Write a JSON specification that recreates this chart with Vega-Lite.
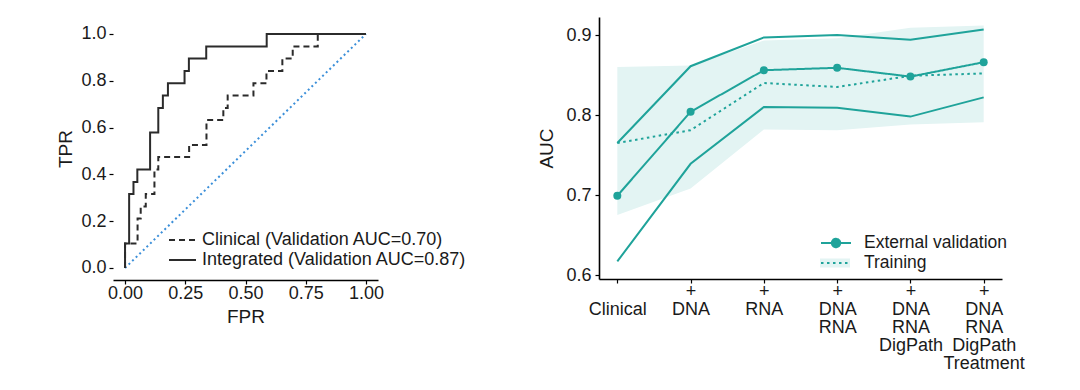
{
  "$schema": "https://vega.github.io/schema/vega-lite/v6.json",
  "background": "white",
  "padding": {"left": 56, "top": 17, "right": 5, "bottom": 5},
  "spacing": 70,
  "resolve": {"scale": {"strokeDash": "independent", "fill": "independent"}, "legend": {"strokeDash": "independent", "fill": "independent"}},
  "config": {
    "view": {"stroke": null},
    "font": "Liberation Sans",
    "axis": {"domainColor": "#000", "domainWidth": 1.6, "tickColor": "#000", "tickWidth": 1.2, "tickSize": 4, "labelFont": "Liberation Sans", "labelFontSize": 18, "labelColor": "#1a1a1a", "titleFont": "Liberation Sans", "titleFontSize": 19, "titleFontWeight": "normal", "titleColor": "#1a1a1a", "grid": false},
    "legend": {"labelFont": "Liberation Sans", "labelFontSize": 18, "labelColor": "#1a1a1a", "padding": 0, "labelLimit": 0}
  },
  "hconcat": [
    {
      "width": 265,
      "height": 263,
      "layer": [
        {
          "mark": {"type": "rule", "color": "#000", "strokeWidth": 1.6},
          "encoding": {
            "x": {"datum": -0.05, "type": "quantitative", "scale": {"domain": [-0.05, 1.05], "nice": false, "zero": false}, "axis": {"values": [0, 0.25, 0.5, 0.75, 1], "format": ".2f", "title": "FPR", "labelPadding": 0, "titlePadding": 5}},
            "y": {"datum": -0.0513, "type": "quantitative", "scale": {"domain": [-0.0513, 1.0726], "nice": false, "zero": false}, "axis": {"values": [0, 0.2, 0.4, 0.6, 0.8, 1], "format": ".1f", "title": "TPR", "labelPadding": 3, "titlePadding": 5, "domain": false}},
            "y2": {"datum": 1.0513}
          }
        },
        {
          "data": {"values": [{"fpr": 0, "tpr": 0}, {"fpr": 1, "tpr": 1}]},
          "mark": {"type": "line", "color": "#3b8fd9", "strokeWidth": 2, "strokeDash": [2, 3]},
          "encoding": {
            "x": {"field": "fpr", "type": "quantitative", "title": "FPR"},
            "y": {"field": "tpr", "type": "quantitative", "title": "TPR"}
          }
        },
        {
          "data": {"values": [
            {"series": "Clinical", "i": 0, "fpr": 0, "tpr": 0},
            {"series": "Clinical", "i": 1, "fpr": 0, "tpr": 0.105},
            {"series": "Clinical", "i": 2, "fpr": 0.052, "tpr": 0.105},
            {"series": "Clinical", "i": 3, "fpr": 0.052, "tpr": 0.211},
            {"series": "Clinical", "i": 4, "fpr": 0.065, "tpr": 0.211},
            {"series": "Clinical", "i": 5, "fpr": 0.065, "tpr": 0.263},
            {"series": "Clinical", "i": 6, "fpr": 0.086, "tpr": 0.263},
            {"series": "Clinical", "i": 7, "fpr": 0.086, "tpr": 0.316},
            {"series": "Clinical", "i": 8, "fpr": 0.122, "tpr": 0.316},
            {"series": "Clinical", "i": 9, "fpr": 0.122, "tpr": 0.421},
            {"series": "Clinical", "i": 10, "fpr": 0.138, "tpr": 0.421},
            {"series": "Clinical", "i": 11, "fpr": 0.138, "tpr": 0.474},
            {"series": "Clinical", "i": 12, "fpr": 0.266, "tpr": 0.474},
            {"series": "Clinical", "i": 13, "fpr": 0.266, "tpr": 0.526},
            {"series": "Clinical", "i": 14, "fpr": 0.338, "tpr": 0.526},
            {"series": "Clinical", "i": 15, "fpr": 0.338, "tpr": 0.632},
            {"series": "Clinical", "i": 16, "fpr": 0.408, "tpr": 0.632},
            {"series": "Clinical", "i": 17, "fpr": 0.408, "tpr": 0.684},
            {"series": "Clinical", "i": 18, "fpr": 0.426, "tpr": 0.684},
            {"series": "Clinical", "i": 19, "fpr": 0.426, "tpr": 0.737},
            {"series": "Clinical", "i": 20, "fpr": 0.533, "tpr": 0.737},
            {"series": "Clinical", "i": 21, "fpr": 0.533, "tpr": 0.789},
            {"series": "Clinical", "i": 22, "fpr": 0.587, "tpr": 0.789},
            {"series": "Clinical", "i": 23, "fpr": 0.587, "tpr": 0.842},
            {"series": "Clinical", "i": 24, "fpr": 0.653, "tpr": 0.842},
            {"series": "Clinical", "i": 25, "fpr": 0.653, "tpr": 0.895},
            {"series": "Clinical", "i": 26, "fpr": 0.696, "tpr": 0.895},
            {"series": "Clinical", "i": 27, "fpr": 0.696, "tpr": 0.947},
            {"series": "Clinical", "i": 28, "fpr": 0.8, "tpr": 0.947},
            {"series": "Clinical", "i": 29, "fpr": 0.8, "tpr": 1},
            {"series": "Clinical", "i": 30, "fpr": 1, "tpr": 1},
            {"series": "Integrated", "i": 0, "fpr": 0, "tpr": 0},
            {"series": "Integrated", "i": 1, "fpr": 0, "tpr": 0.105},
            {"series": "Integrated", "i": 2, "fpr": 0.017, "tpr": 0.105},
            {"series": "Integrated", "i": 3, "fpr": 0.017, "tpr": 0.316},
            {"series": "Integrated", "i": 4, "fpr": 0.035, "tpr": 0.316},
            {"series": "Integrated", "i": 5, "fpr": 0.035, "tpr": 0.368},
            {"series": "Integrated", "i": 6, "fpr": 0.051, "tpr": 0.368},
            {"series": "Integrated", "i": 7, "fpr": 0.051, "tpr": 0.421},
            {"series": "Integrated", "i": 8, "fpr": 0.104, "tpr": 0.421},
            {"series": "Integrated", "i": 9, "fpr": 0.104, "tpr": 0.579},
            {"series": "Integrated", "i": 10, "fpr": 0.138, "tpr": 0.579},
            {"series": "Integrated", "i": 11, "fpr": 0.138, "tpr": 0.684},
            {"series": "Integrated", "i": 12, "fpr": 0.157, "tpr": 0.684},
            {"series": "Integrated", "i": 13, "fpr": 0.157, "tpr": 0.737},
            {"series": "Integrated", "i": 14, "fpr": 0.178, "tpr": 0.737},
            {"series": "Integrated", "i": 15, "fpr": 0.178, "tpr": 0.789},
            {"series": "Integrated", "i": 16, "fpr": 0.247, "tpr": 0.789},
            {"series": "Integrated", "i": 17, "fpr": 0.247, "tpr": 0.842},
            {"series": "Integrated", "i": 18, "fpr": 0.265, "tpr": 0.842},
            {"series": "Integrated", "i": 19, "fpr": 0.265, "tpr": 0.895},
            {"series": "Integrated", "i": 20, "fpr": 0.337, "tpr": 0.895},
            {"series": "Integrated", "i": 21, "fpr": 0.337, "tpr": 0.947},
            {"series": "Integrated", "i": 22, "fpr": 0.588, "tpr": 0.947},
            {"series": "Integrated", "i": 23, "fpr": 0.588, "tpr": 1},
            {"series": "Integrated", "i": 24, "fpr": 1, "tpr": 1}
          ]},
          "mark": {"type": "line", "color": "#2b2b2b", "strokeWidth": 2},
          "encoding": {
            "x": {"field": "fpr", "type": "quantitative", "title": "FPR"},
            "y": {"field": "tpr", "type": "quantitative", "title": "TPR"},
            "order": {"field": "i", "type": "quantitative"},
            "strokeDash": {
              "field": "series", "type": "nominal",
              "scale": {"domain": ["Clinical", "Integrated"], "range": [[6, 4], [1, 0]]},
              "legend": {
                "title": null, "orient": "none", "legendX": 55, "legendY": 213,
                "symbolType": "stroke", "symbolSize": 729, "symbolStrokeColor": "#2b2b2b", "symbolStrokeWidth": 2,
                "clipHeight": 20, "rowPadding": 0, "labelOffset": 5, "labelFontSize": 18,
                "labelExpr": "datum.label == 'Clinical' ? 'Clinical (Validation AUC=0.70)' : 'Integrated (Validation AUC=0.87)'"
              }
            }
          }
        }
      ]
    },
    {
      "width": 403,
      "height": 262,
      "data": {"values": [
        {"model": "Clinical", "series": "External validation", "est": 0.699, "lo": 0.617, "hi": 0.765},
        {"model": "DNA", "series": "External validation", "est": 0.804, "lo": 0.739, "hi": 0.861},
        {"model": "RNA", "series": "External validation", "est": 0.856, "lo": 0.810, "hi": 0.897},
        {"model": "DNA RNA", "series": "External validation", "est": 0.859, "lo": 0.809, "hi": 0.900},
        {"model": "DNA RNA DigPath", "series": "External validation", "est": 0.848, "lo": 0.798, "hi": 0.894},
        {"model": "DNA RNA DigPath Treatment", "series": "External validation", "est": 0.866, "lo": 0.822, "hi": 0.907},
        {"model": "Clinical", "series": "Training", "est": 0.765, "lo": 0.675, "hi": 0.860},
        {"model": "DNA", "series": "Training", "est": 0.781, "lo": 0.708, "hi": 0.862},
        {"model": "RNA", "series": "Training", "est": 0.840, "lo": 0.782, "hi": 0.893},
        {"model": "DNA RNA", "series": "Training", "est": 0.835, "lo": 0.781, "hi": 0.896},
        {"model": "DNA RNA DigPath", "series": "Training", "est": 0.849, "lo": 0.788, "hi": 0.909},
        {"model": "DNA RNA DigPath Treatment", "series": "Training", "est": 0.852, "lo": 0.791, "hi": 0.912}
      ]},
      "layer": [
        {
          "transform": [{"filter": "datum.series == 'Training'"}],
          "mark": {"type": "area", "opacity": 1},
          "encoding": {
            "x": {"field": "model", "type": "nominal", "scale": {"type": "point", "domain": ["Clinical", "DNA", "RNA", "DNA RNA", "DNA RNA DigPath", "DNA RNA DigPath Treatment"], "padding": 0.25},
              "axis": {"title": null, "labelAngle": 0, "labelPadding": -1, "labelLineHeight": 18, "labelOverlap": false, "labelFontSize": 18,
                "labelExpr": "datum.value == 'Clinical' ? ['', 'Clinical'] : split('+ ' + datum.value, ' ')"}},
            "y": {"field": "lo", "type": "quantitative", "scale": {"domain": [0.595, 0.9225], "nice": false, "zero": false}, "axis": {"values": [0.6, 0.7, 0.8, 0.9], "format": ".1f", "title": "AUC", "labelPadding": 4, "titlePadding": 9}},
            "y2": {"field": "hi"},
            "fill": {
              "field": "series", "type": "nominal",
              "scale": {"domain": ["Training"], "range": ["#e3f4f3"]},
              "legend": {
                "title": null, "orient": "none", "legendX": 221, "legendY": 236,
                "symbolType": "M-1,-0.3H1V0.3H-1Z", "symbolSize": 900, "symbolStrokeWidth": 0, "symbolOpacity": 1,
                "clipHeight": 20, "rowPadding": 0, "labelOffset": 12, "labelColor": "transparent", "labelFontSize": 17.5
              }
            }
          }
        },
        {
          "transform": [{"filter": "datum.series == 'External validation'"}],
          "mark": {"type": "line", "color": "#1fa39a", "strokeWidth": 2},
          "encoding": {
            "x": {"field": "model", "type": "nominal"},
            "y": {"field": "hi", "type": "quantitative", "title": "AUC"}
          }
        },
        {
          "transform": [{"filter": "datum.series == 'External validation'"}],
          "mark": {"type": "line", "color": "#1fa39a", "strokeWidth": 2},
          "encoding": {
            "x": {"field": "model", "type": "nominal"},
            "y": {"field": "lo", "type": "quantitative", "title": "AUC"}
          }
        },
        {
          "mark": {"type": "line", "color": "#1fa39a", "strokeWidth": 2},
          "encoding": {
            "x": {"field": "model", "type": "nominal"},
            "y": {"field": "est", "type": "quantitative", "title": "AUC"},
            "strokeDash": {
              "field": "series", "type": "nominal",
              "scale": {"domain": ["External validation", "Training"], "range": [[1, 0], [2.5, 3.5]]},
              "legend": {
                "title": null, "orient": "none", "legendX": 221, "legendY": 216,
                "symbolType": "stroke", "symbolSize": 900, "symbolStrokeColor": "#1fa39a", "symbolStrokeWidth": 2,
                "clipHeight": 20, "rowPadding": 0, "labelOffset": 12, "labelFontSize": 17.5,
                "encode": {"symbols": {"update": {
                  "shape": {"signal": "datum.value === 'Training' ? 'stroke' : 'M-1,0H1M0.28,0A0.28,0.28,0,1,1,-0.28,0A0.28,0.28,0,1,1,0.28,0Z'"},
                  "fill": {"signal": "datum.value === 'Training' ? 'transparent' : '#1fa39a'"},
                  "stroke": {"value": "#1fa39a"},
                  "strokeWidth": {"value": 2}
                }}}
              }
            }
          }
        },
        {
          "transform": [{"filter": "datum.series == 'External validation'"}],
          "mark": {"type": "point", "filled": true, "size": 64, "color": "#1fa39a", "opacity": 1},
          "encoding": {
            "x": {"field": "model", "type": "nominal"},
            "y": {"field": "est", "type": "quantitative", "title": "AUC"}
          }
        }
      ]
    }
  ]
}
